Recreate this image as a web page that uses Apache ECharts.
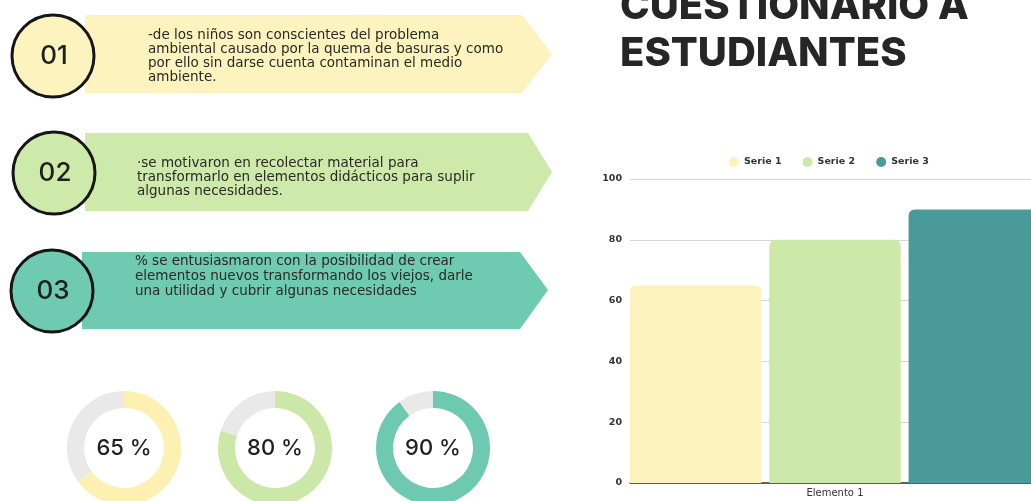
<!DOCTYPE html>
<html>
<head>
<meta charset="utf-8">
<script src="https://cdn.jsdelivr.net/npm/echarts@6/dist/echarts.min.js"></script>
<style>
  html, body { margin: 0; padding: 0; background: #ffffff; overflow: hidden; width: 1031px; height: 501px; }
  #chart { width: 1050px; height: 501px; }
</style>
</head>
<body>
<div id="chart"></div>
<script>
// ---- data ----
const categories = ['Elemento 1'];
const seriesNames = ['Serie 1', 'Serie 2', 'Serie 3'];
const serie1 = [65];
const serie2 = [80];
const serie3 = [90];
const donutValues = [65, 80, 90];
const titleLines = ['CUESTIONARIO A', 'ESTUDIANTES'];
const stepNumbers = ['01', '02', '03'];
const stepText1 = ['-de los niños son conscientes del problema', 'ambiental causado por la quema de basuras y como', 'por ello sin darse cuenta contaminan el medio', 'ambiente.'];
const stepText2 = ['·se motivaron en recolectar material para', 'transformarlo en elementos didácticos para suplir', 'algunas necesidades.'];
const stepText3 = ['% se entusiasmaron con la posibilidad de crear', 'elementos nuevos transformando los viejos, darle', 'una utilidad y cubrir algunas necesidades'];

// ---- styles ----
const barColors = ['#FCF3BC', '#CDE9AA', '#4A9A9A'];
const donutColors = ['#FDF1B2', '#CBE8A8', '#6DCAB0'];
const donutRest = '#E9E9E9';
const stepColors = ['#FCF3BF', '#CEEAAB', '#6ECAB0'];
const textFont = '"DejaVu Sans", sans-serif';

const chart = echarts.init(document.getElementById('chart'), null, { renderer: 'canvas' });

function chevron(pts, color) {
  return { type: 'polygon', shape: { points: pts }, style: { fill: color }, z: 1, silent: true };
}
function ring(cx, cy, color) {
  return { type: 'circle', shape: { cx: cx, cy: cy, r: 41 }, style: { fill: color, stroke: '#161616', lineWidth: 3 }, z: 2, silent: true };
}
function num(x, y, t) {
  return { type: 'text', x: x, y: y, z: 3, silent: true,
    style: { text: t, fill: '#1f1f1f', font: '500 26px Inter, sans-serif', textAlign: 'center', textVerticalAlign: 'middle' } };
}
function block(x, y, lines, lh) {
  return { type: 'text', x: x, y: y, z: 3, silent: true,
    style: { text: lines.join('\n'), fill: '#2a2a24', font: 'normal 13.5px ' + textFont, lineHeight: lh, textAlign: 'left', textVerticalAlign: 'top' } };
}

const donutCenters = [[124, 448], [275, 448], [433, 448]];
const pies = donutValues.map((v, i) => ({
  type: 'pie',
  silent: true,
  center: donutCenters[i],
  radius: [40, 57],
  startAngle: 90,
  clockwise: true,
  label: { show: false },
  labelLine: { show: false },
  emphasis: { disabled: true },
  data: [
    { value: v, name: 'd' + i, itemStyle: { color: donutColors[i] },
      label: { show: true, position: 'center', formatter: v + ' %', fontSize: 22, fontWeight: 500, color: '#1f1f1f', fontFamily: 'Inter, sans-serif' } },
    { value: 100 - v, name: 'r' + i, itemStyle: { color: donutRest }, label: { show: false } }
  ]
}));

const barData = [serie1, serie2, serie3];
const bars = seriesNames.map((n, i) => ({
  type: 'bar',
  name: n,
  data: barData[i],
  barGap: '6%',
  barCategoryGap: '0%',
  itemStyle: { color: barColors[i], borderRadius: [6, 6, 0, 0] },
  emphasis: { disabled: true }
}));

chart.setOption({
  animation: false,
  backgroundColor: '#ffffff',
  title: {
    text: titleLines.join('\n'),
    left: 615,
    top: -22,
    textStyle: { fontFamily: 'Inter, sans-serif', fontWeight: 800, fontSize: 40, lineHeight: 47, color: '#262626' }
  },
  legend: {
    data: seriesNames,
    left: 724,
    top: 152,
    icon: 'circle',
    itemWidth: 10,
    itemHeight: 10,
    itemGap: 21,
    textStyle: { fontSize: 9.5, fontWeight: 'bold', color: '#333', fontFamily: textFont }
  },
  grid: { left: 630, right: 10, top: 179, bottom: 18, containLabel: false },
  xAxis: {
    type: 'category',
    data: categories,
    axisLine: { show: true, lineStyle: { color: '#333', width: 1.5 } },
    axisTick: { show: false },
    axisLabel: { fontSize: 10, color: '#333', margin: 5, fontFamily: textFont }
  },
  yAxis: {
    type: 'value',
    min: 0,
    max: 100,
    interval: 20,
    axisLine: { show: false },
    axisTick: { show: false },
    splitLine: { lineStyle: { color: '#d6d6d6', width: 1 } },
    axisLabel: { fontSize: 9.5, fontWeight: 'bold', color: '#333', margin: 8, fontFamily: textFont }
  },
  series: bars.concat(pies),
  graphic: [
    chevron([[85, 15], [522, 15], [552, 54], [522, 93], [85, 93]], stepColors[0]),
    chevron([[85, 133], [528, 133], [552, 172], [528, 211], [85, 211]], stepColors[1]),
    chevron([[82, 252], [520, 252], [548, 290], [520, 329], [82, 329]], stepColors[2]),
    ring(53, 56, stepColors[0]),
    ring(54, 173, stepColors[1]),
    ring(52, 291, stepColors[2]),
    num(54, 56, stepNumbers[0]),
    num(55, 173, stepNumbers[1]),
    num(53, 291, stepNumbers[2]),
    block(148, 28, stepText1, 14),
    block(137, 156, stepText2, 14),
    block(135, 254, stepText3, 15)
  ]
});
</script>
</body>
</html>
